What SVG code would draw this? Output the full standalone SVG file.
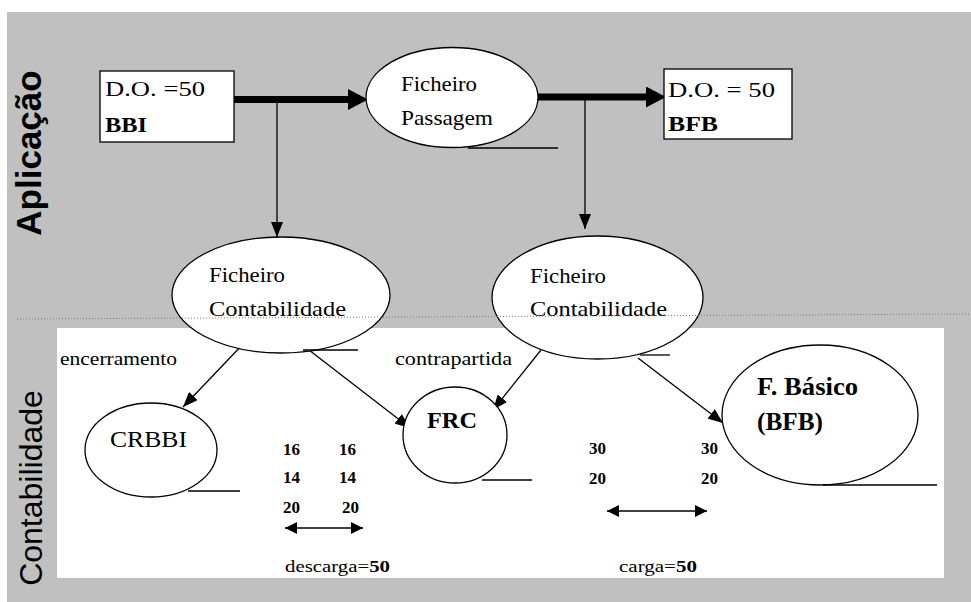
<svg xmlns="http://www.w3.org/2000/svg" width="971" height="602" viewBox="0 0 971 602">
  <defs>
    <!-- thin connector head -->
    <marker id="head" markerUnits="userSpaceOnUse" markerWidth="15" markerHeight="12" refX="15" refY="6" orient="auto">
      <path d="M0,0 L15,6 L0,12 Z" fill="#000"/>
    </marker>
    <!-- heavy connector head, starts at the end of the line -->
    <marker id="bighead" markerUnits="userSpaceOnUse" markerWidth="20" markerHeight="21" refX="0" refY="10.5" orient="auto">
      <path d="M0,0 L20,10.5 L0,21 Z" fill="#000"/>
    </marker>
    <!-- two-way span head -->
    <marker id="span" markerUnits="userSpaceOnUse" markerWidth="12" markerHeight="12" refX="12" refY="6" orient="auto-start-reverse">
      <path d="M0,0 L12,6 L0,12 Z" fill="#000"/>
    </marker>
  </defs>
  <style>
    .serif { font-family: "Liberation Serif", "Times New Roman", serif; fill: #000; }
    .b { font-weight: bold; }
    .sans { font-family: "Liberation Sans", Arial, sans-serif; fill: #000; }
    .shape { fill: #fff; stroke: #000; stroke-width: 1.3; }
    .link { stroke: #000; stroke-width: 1.3; fill: none; }
    .heavy { stroke: #000; stroke-width: 7; fill: none; }
    .rule { stroke: #000; stroke-width: 1.3; }
    .n { font-size: 17px; font-weight: bold; }
  </style>

  <!-- backdrop -->
  <rect x="0" y="0" width="971" height="602" fill="#fff"/>
  <rect x="7" y="12" width="964" height="590" fill="#c0c0c0"/>
  <rect x="57" y="328" width="887" height="250" fill="#fff"/>

  <!-- lane titles -->
  <text class="sans b" font-size="35" text-anchor="middle" transform="translate(41,153) rotate(-90)">Aplicação</text>
  <text class="sans" font-size="32" text-anchor="middle" transform="translate(42,488) rotate(-90)">Contabilidade</text>

  <!-- connectors -->
  <g id="connectors">
    <line class="heavy" x1="234" y1="99.5" x2="348" y2="99.5" marker-end="url(#bighead)"/>
    <line class="heavy" x1="538" y1="97" x2="646" y2="97" marker-end="url(#bighead)"/>
    <line class="link" x1="277" y1="99" x2="277" y2="237" marker-end="url(#head)"/>
    <line class="link" x1="585" y1="97" x2="585" y2="229" marker-end="url(#head)"/>
    <line class="link" x1="245" y1="342" x2="183" y2="407" marker-end="url(#head)"/>
    <line class="link" x1="309" y1="350" x2="410" y2="428" marker-end="url(#head)"/>
    <line class="link" x1="541" y1="350" x2="493" y2="410" marker-end="url(#head)"/>
    <line class="link" x1="638" y1="358" x2="723" y2="423" marker-end="url(#head)"/>
    <line class="link" x1="285" y1="528" x2="363" y2="528" marker-start="url(#span)" marker-end="url(#span)"/>
    <line class="link" x1="607" y1="511" x2="707" y2="511" marker-start="url(#span)" marker-end="url(#span)"/>
  </g>

  <g id="bbi">
    <rect class="shape" x="100" y="71" width="134" height="71"/>
    <text class="serif" x="105" y="96" font-size="21" textLength="100" lengthAdjust="spacingAndGlyphs">D.O. =50</text>
    <text class="serif b" x="105" y="132" font-size="21" textLength="42" lengthAdjust="spacingAndGlyphs">BBI</text>
  </g>

  <g id="passagem">
    <ellipse class="shape" cx="452" cy="97.5" rx="86" ry="50"/>
    <text class="serif" x="401" y="91" font-size="21" textLength="76" lengthAdjust="spacingAndGlyphs">Ficheiro</text>
    <text class="serif" x="401" y="125" font-size="21" textLength="92" lengthAdjust="spacingAndGlyphs">Passagem</text>
    <line class="rule" x1="468" y1="148" x2="558" y2="148"/>
  </g>

  <g id="bfb">
    <rect class="shape" x="664" y="69" width="128" height="70"/>
    <text class="serif" x="668" y="97" font-size="21" textLength="107" lengthAdjust="spacingAndGlyphs">D.O. = 50</text>
    <text class="serif b" x="668" y="131" font-size="21" textLength="50" lengthAdjust="spacingAndGlyphs">BFB</text>
  </g>

  <g id="contab-1">
    <ellipse class="shape" cx="281" cy="295" rx="109" ry="58"/>
    <text class="serif" x="209" y="282" font-size="22" textLength="76" lengthAdjust="spacingAndGlyphs">Ficheiro</text>
    <text class="serif" x="209" y="316" font-size="22" textLength="137" lengthAdjust="spacingAndGlyphs">Contabilidade</text>
    <line class="rule" x1="303" y1="350" x2="358" y2="350"/>
  </g>

  <g id="contab-2">
    <ellipse class="shape" cx="597.5" cy="297.5" rx="105.5" ry="61.5"/>
    <text class="serif" x="530" y="283" font-size="22" textLength="76" lengthAdjust="spacingAndGlyphs">Ficheiro</text>
    <text class="serif" x="530" y="316" font-size="22" textLength="137" lengthAdjust="spacingAndGlyphs">Contabilidade</text>
    <line class="rule" x1="640" y1="355" x2="670" y2="355"/>
  </g>

  <!-- flow labels -->
  <text class="serif" x="60" y="365" font-size="18" textLength="117" lengthAdjust="spacingAndGlyphs">encerramento</text>
  <text class="serif" x="395" y="365" font-size="18" textLength="117" lengthAdjust="spacingAndGlyphs">contrapartida</text>

  <g id="crbbi">
    <ellipse class="shape" cx="151" cy="450" rx="66" ry="47"/>
    <text class="serif" x="110" y="447" font-size="24" textLength="77" lengthAdjust="spacingAndGlyphs">CRBBI</text>
    <line class="rule" x1="188" y1="491" x2="240" y2="491"/>
  </g>

  <g id="frc">
    <ellipse class="shape" cx="455" cy="435" rx="52" ry="48"/>
    <text class="serif b" x="427" y="428" font-size="24" textLength="50" lengthAdjust="spacingAndGlyphs">FRC</text>
    <line class="rule" x1="482" y1="480" x2="532" y2="480"/>
  </g>

  <g id="basico">
    <ellipse class="shape" cx="820" cy="415" rx="98" ry="70"/>
    <text class="serif b" x="757" y="395" font-size="25" textLength="101" lengthAdjust="spacingAndGlyphs">F. Básico</text>
    <text class="serif b" x="757" y="430" font-size="25" textLength="66" lengthAdjust="spacingAndGlyphs">(BFB)</text>
    <line class="rule" x1="823" y1="485" x2="937" y2="485"/>
  </g>

  <!-- discharge figures -->
  <g id="descarga">
    <text class="serif n" x="283" y="455">16</text>
    <text class="serif n" x="339" y="455">16</text>
    <text class="serif n" x="283" y="483">14</text>
    <text class="serif n" x="339" y="483">14</text>
    <text class="serif n" x="283" y="513">20</text>
    <text class="serif n" x="342" y="513">20</text>
    <text class="serif" x="285" y="572" font-size="17" textLength="105" lengthAdjust="spacingAndGlyphs">descarga=<tspan font-weight="bold">50</tspan></text>
  </g>

  <!-- charge figures -->
  <g id="carga">
    <text class="serif n" x="589" y="454">30</text>
    <text class="serif n" x="701" y="454">30</text>
    <text class="serif n" x="589" y="484">20</text>
    <text class="serif n" x="701" y="484">20</text>
    <text class="serif" x="619" y="572" font-size="17" textLength="78" lengthAdjust="spacingAndGlyphs">carga=<tspan font-weight="bold">50</tspan></text>
  </g>

  <!-- lane divider -->
  <line x1="17" y1="319" x2="971" y2="314" stroke="#7a7a7a" stroke-width="1" stroke-dasharray="1 2"/>
</svg>
